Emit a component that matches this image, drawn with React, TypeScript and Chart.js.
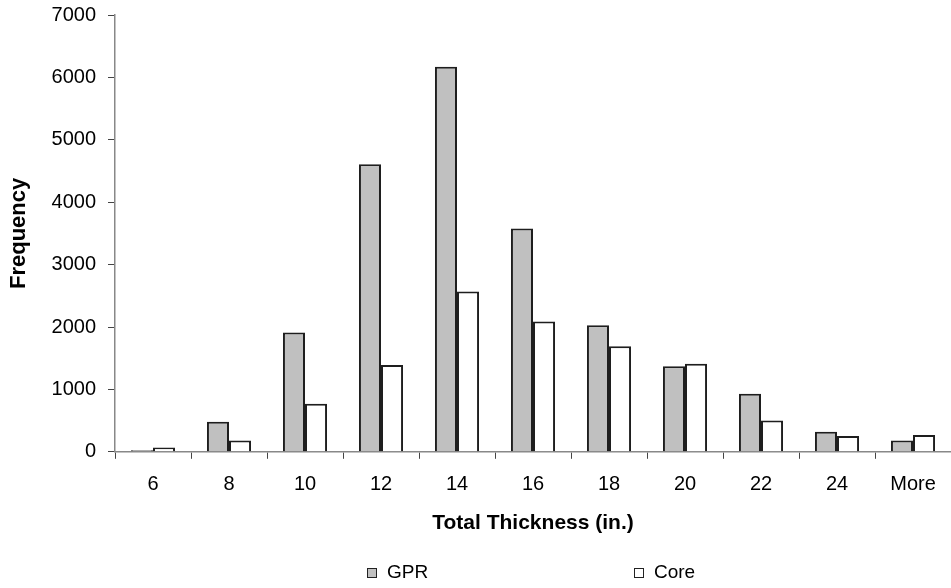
import React, { useEffect, useRef } from "react";
import { Chart, registerables } from "chart.js";

Chart.register(...registerables);

const categories = ["6", "8", "10", "12", "14", "16", "18", "20", "22", "24", "More"];
const gprValues = [25, 480, 1910, 4610, 6170, 3580, 2030, 1370, 930, 320, 180];
const coreValues = [70, 180, 770, 1390, 2570, 2090, 1690, 1410, 500, 255, 270];
const seriesNames = ["GPR", "Core"];
const yMax = 7000;
const yStep = 1000;

const FONT = "'Liberation Sans', Arial, sans-serif";

const legendPlugin = {
  id: "spacedLegend",
  afterDraw(chart: any) {
    const ctx = chart.ctx;
    const xs = [367, 634];
    const y = 568;
    ctx.save();
    chart.data.datasets.forEach((ds: any, i: number) => {
      const x = xs[i];
      ctx.fillStyle = ds.backgroundColor;
      ctx.fillRect(x, y, 10, 10);
      ctx.strokeStyle = "#222";
      ctx.lineWidth = 1;
      ctx.strokeRect(x + 0.5, y + 0.5, 9, 9);
      ctx.fillStyle = "#000";
      ctx.font = `19px ${FONT}`;
      ctx.textBaseline = "alphabetic";
      ctx.textAlign = "left";
      ctx.fillText(ds.label, x + 20, y + 10);
    });
    ctx.restore();
  },
};

export default function App() {
  const ref = useRef<HTMLCanvasElement | null>(null);
  useEffect(() => {
    if (!ref.current) return;
    const chart = new Chart(ref.current, {
      type: "bar",
      data: {
        labels: categories,
        datasets: [
          {
            label: seriesNames[0],
            data: gprValues,
            backgroundColor: "#c0c0c0",
            borderColor: "#1e1e1e",
            borderWidth: 2,
            categoryPercentage: 0.58,
            barPercentage: 1,
          },
          {
            label: seriesNames[1],
            data: coreValues,
            backgroundColor: "#ffffff",
            borderColor: "#1e1e1e",
            borderWidth: 2,
            categoryPercentage: 0.58,
            barPercentage: 1,
          },
        ],
      },
      options: {
        animation: false,
        responsive: false,
        maintainAspectRatio: false,
        layout: { padding: { top: 15, right: 0, bottom: 52, left: 4 } },
        plugins: {
          legend: { display: false },
          tooltip: { enabled: false },
        },
        scales: {
          x: {
            grid: {
              display: true,
              drawOnChartArea: false,
              offset: true,
              tickLength: 7,
              color: "#444",
            },
            border: { color: "#888", width: 1.5 },
            ticks: { color: "#000", font: { family: FONT, size: 20 }, padding: 14 },
            title: {
              display: true,
              text: "Total Thickness (in.)",
              color: "#000",
              font: { family: FONT, size: 21, weight: "bold" },
              padding: { top: 0, bottom: 0 },
            },
          },
          y: {
            min: 0,
            max: yMax,
            afterFit(scale: any) {
              scale.width = 111;
              scale.paddingTop = 0;
              scale.paddingBottom = 0;
            },
            ticks: {
              stepSize: yStep,
              color: "#000",
              font: { family: FONT, size: 20 },
              padding: 12,
              callback: (v: any) => String(v),
            },
            grid: {
              display: true,
              drawOnChartArea: false,
              tickLength: 7,
              color: "#444",
            },
            border: { color: "#888", width: 1.5 },
            title: {
              display: true,
              text: "Frequency",
              color: "#000",
              font: { family: FONT, size: 22, weight: "bold" },
              padding: { top: 2, bottom: 0 },
            },
          },
        },
      },
      plugins: [legendPlugin],
    } as any);
    return () => chart.destroy();
  }, []);
  return (
    <div style={{ position: "fixed", left: 0, top: 0, width: 951, height: 588, background: "#fff" }}>
      <canvas ref={ref} width={951} height={588} />
    </div>
  );
}
